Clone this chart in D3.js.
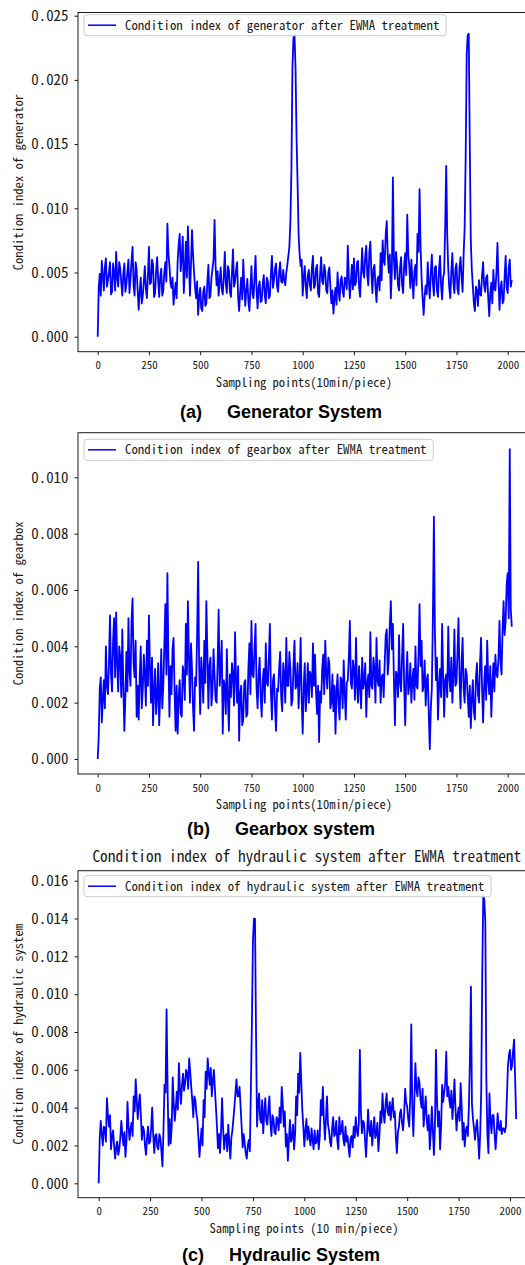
<!DOCTYPE html>
<html>
<head>
<meta charset="utf-8">
<script src="https://cdn.jsdelivr.net/npm/d3@7"></script>
<style>
  html, body { margin: 0; padding: 0; background: #fff; }
  svg { display: block; }
</style>
</head>
<body>
<svg id="chart" width="525" height="1265"></svg>
<script>
// One stored value every 5 sampling points (10 min per sampling point)
const samplingStep = 5;

const xTicks = [0, 250, 500, 750, 1000, 1250, 1500, 1750, 2000];
const generatorTicks = [0, 0.005, 0.010, 0.015, 0.020, 0.025];
const gearboxTicks = [0, 0.002, 0.004, 0.006, 0.008, 0.010];
const hydraulicTicks = [0, 0.002, 0.004, 0.006, 0.008, 0.010, 0.012, 0.014, 0.016];

// Condition index of the generator after EWMA treatment
const generatorIndex = [
  0, 0.0038, 0.0049, 0.0032, 0.0059, 0.0048, 0.0036, 0.0054, 0.0061, 0.0039,
  0.0044, 0.0050, 0.0058, 0.0033, 0.0035, 0.0057, 0.0050, 0.0036, 0.0066, 0.0046,
  0.0039, 0.0058, 0.0053, 0.0042, 0.0032, 0.0049, 0.0057, 0.0035, 0.0041, 0.0051,
  0.0060, 0.0034, 0.0045, 0.0059, 0.0070, 0.0040, 0.0032, 0.0058, 0.0052, 0.0036,
  0.0021, 0.0035, 0.0046, 0.0026, 0.0032, 0.0043, 0.0055, 0.0037, 0.0030, 0.0048,
  0.0070, 0.0041, 0.0042, 0.0060, 0.0056, 0.0031, 0.0034, 0.0051, 0.0062, 0.0044,
  0.0031, 0.0047, 0.0053, 0.0032, 0.0036, 0.0050, 0.0058, 0.0043, 0.0088, 0.0065,
  0.0055, 0.0042, 0.0038, 0.0046, 0.0025, 0.0034, 0.0042, 0.0030, 0.0059, 0.0072,
  0.0080, 0.0051, 0.0062, 0.0078, 0.0034, 0.0052, 0.0074, 0.0046, 0.0086, 0.0059,
  0.0032, 0.0056, 0.0083, 0.0064, 0.0050, 0.0038, 0.0030, 0.0043, 0.0017, 0.0031,
  0.0038, 0.0022, 0.0020, 0.0035, 0.0039, 0.0024, 0.0026, 0.0043, 0.0056, 0.0030,
  0.0032, 0.0046, 0.0053, 0.0060, 0.0091, 0.0055, 0.0040, 0.0051, 0.0032, 0.0044,
  0.0054, 0.0037, 0.0033, 0.0047, 0.0066, 0.0041, 0.0034, 0.0055, 0.0052, 0.0035,
  0.0031, 0.0050, 0.0068, 0.0039, 0.0043, 0.0052, 0.0058, 0.0031, 0.0020, 0.0035,
  0.0046, 0.0029, 0.0060, 0.0039, 0.0024, 0.0037, 0.0045, 0.0028, 0.0020, 0.0038,
  0.0055, 0.0033, 0.0030, 0.0046, 0.0063, 0.0036, 0.0022, 0.0039, 0.0043, 0.0027,
  0.0028, 0.0041, 0.0048, 0.0032, 0.0026, 0.0046, 0.0043, 0.0030, 0.0032, 0.0049,
  0.0063, 0.0038, 0.0044, 0.0053, 0.0057, 0.0039, 0.0035, 0.0050, 0.0058, 0.0043,
  0.0042, 0.0052, 0.0044, 0.0040, 0.0050, 0.0056, 0.0063, 0.0070, 0.0090, 0.0130,
  0.0210, 0.0233, 0.0235, 0.0210, 0.0155, 0.0120, 0.0080, 0.0064, 0.0055, 0.0060,
  0.0032, 0.0046, 0.0055, 0.0039, 0.0030, 0.0048, 0.0052, 0.0040, 0.0036, 0.0054,
  0.0063, 0.0038, 0.0040, 0.0053, 0.0056, 0.0034, 0.0031, 0.0049, 0.0062, 0.0043,
  0.0041, 0.0056, 0.0051, 0.0036, 0.0034, 0.0050, 0.0054, 0.0039, 0.0026, 0.0036,
  0.0018, 0.0030, 0.0038, 0.0025, 0.0050, 0.0036, 0.0028, 0.0044, 0.0047, 0.0035,
  0.0031, 0.0046, 0.0045, 0.0037, 0.0071, 0.0046, 0.0030, 0.0043, 0.0056, 0.0037,
  0.0061, 0.0040, 0.0042, 0.0058, 0.0059, 0.0039, 0.0031, 0.0050, 0.0069, 0.0050,
  0.0046, 0.0063, 0.0071, 0.0048, 0.0040, 0.0066, 0.0074, 0.0050, 0.0034, 0.0053,
  0.0056, 0.0039, 0.0027, 0.0045, 0.0047, 0.0036, 0.0065, 0.0044, 0.0075, 0.0059,
  0.0056, 0.0080, 0.0090, 0.0063, 0.0050, 0.0064, 0.0030, 0.0052, 0.0124, 0.0060,
  0.0045, 0.0066, 0.0057, 0.0040, 0.0036, 0.0054, 0.0062, 0.0040, 0.0034, 0.0056,
  0.0065, 0.0048, 0.0095, 0.0064, 0.0055, 0.0038, 0.0060, 0.0044, 0.0030, 0.0051,
  0.0056, 0.0040, 0.0080, 0.0066, 0.0115, 0.0070, 0.0045, 0.0030, 0.0017, 0.0032,
  0.0040, 0.0033, 0.0058, 0.0041, 0.0030, 0.0050, 0.0064, 0.0042, 0.0032, 0.0054,
  0.0055, 0.0036, 0.0031, 0.0052, 0.0063, 0.0040, 0.0029, 0.0046, 0.0050, 0.0085,
  0.0133, 0.0080, 0.0053, 0.0038, 0.0030, 0.0051, 0.0065, 0.0042, 0.0034, 0.0053,
  0.0057, 0.0037, 0.0033, 0.0054, 0.0062, 0.0046, 0.0035, 0.0064, 0.0085, 0.0140,
  0.0220, 0.0235, 0.0236, 0.0150, 0.0075, 0.0052, 0.0039, 0.0026, 0.0020, 0.0039,
  0.0036, 0.0024, 0.0044, 0.0033, 0.0032, 0.0048, 0.0058, 0.0040, 0.0035, 0.0046,
  0.0048, 0.0030, 0.0016, 0.0034, 0.0042, 0.0026, 0.0052, 0.0037, 0.0036, 0.0050,
  0.0073, 0.0044, 0.0021, 0.0038, 0.0043, 0.0026, 0.0028, 0.0047, 0.0063, 0.0038,
  0.0034, 0.0054, 0.0060, 0.0039, 0.0044
];

// Condition index of the gearbox after EWMA treatment
const gearboxIndex = [
  0, 0.0008, 0.0025, 0.0029, 0.0013, 0.0021, 0.0028, 0.0018, 0.0040, 0.0026,
  0.0023, 0.0034, 0.0051, 0.0030, 0.0024, 0.0042, 0.0050, 0.0029, 0.0052, 0.0034,
  0.0024, 0.0040, 0.0036, 0.0022, 0.0046, 0.0026, 0.0010, 0.0022, 0.0038, 0.0024,
  0.0050, 0.0031, 0.0026, 0.0049, 0.0057, 0.0034, 0.0029, 0.0042, 0.0015, 0.0026,
  0.0014, 0.0029, 0.0040, 0.0018, 0.0025, 0.0037, 0.0030, 0.0019, 0.0042, 0.0026,
  0.0051, 0.0032, 0.0020, 0.0036, 0.0012, 0.0024, 0.0032, 0.0016, 0.0022, 0.0034,
  0.0012, 0.0023, 0.0039, 0.0018, 0.0026, 0.0040, 0.0055, 0.0030, 0.0066, 0.0035,
  0.0015, 0.0033, 0.0023, 0.0039, 0.0043, 0.0024, 0.0010, 0.0026, 0.0009, 0.0022,
  0.0028, 0.0016, 0.0015, 0.0033, 0.0030, 0.0021, 0.0048, 0.0030, 0.0056, 0.0036,
  0.0020, 0.0041, 0.0032, 0.0018, 0.0010, 0.0029, 0.0026, 0.0044, 0.0070, 0.0032,
  0.0016, 0.0036, 0.0030, 0.0020, 0.0042, 0.0027, 0.0056, 0.0038, 0.0018, 0.0033,
  0.0036, 0.0019, 0.0024, 0.0039, 0.0030, 0.0021, 0.0020, 0.0034, 0.0053, 0.0026,
  0.0032, 0.0042, 0.0009, 0.0028, 0.0026, 0.0016, 0.0039, 0.0022, 0.0010, 0.0030,
  0.0022, 0.0034, 0.0030, 0.0019, 0.0045, 0.0028, 0.0020, 0.0033, 0.00065, 0.0023,
  0.0026, 0.0012, 0.0014, 0.0027, 0.0028, 0.0015, 0.0016, 0.0032, 0.0041, 0.0023,
  0.0049, 0.0030, 0.0029, 0.0039, 0.0048, 0.0025, 0.0018, 0.0030, 0.0036, 0.0022,
  0.0015, 0.0028, 0.0032, 0.0020, 0.0041, 0.0027, 0.0026, 0.0036, 0.0048, 0.0024,
  0.0014, 0.0028, 0.0030, 0.0018, 0.0010, 0.0025, 0.0024, 0.0032, 0.0038, 0.0022,
  0.0017, 0.0034, 0.0030, 0.0020, 0.0043, 0.0026, 0.0026, 0.0038, 0.0032, 0.0019,
  0.0021, 0.0033, 0.0042, 0.0025, 0.0026, 0.0034, 0.0018, 0.0028, 0.0043, 0.0021,
  0.0009, 0.0026, 0.0034, 0.0017, 0.0024, 0.0034, 0.0020, 0.0031, 0.0030, 0.0022,
  0.0041, 0.0026, 0.0037, 0.0024, 0.0016, 0.0026, 0.0006, 0.0024, 0.0020, 0.0032,
  0.0037, 0.0023, 0.0042, 0.0030, 0.0025, 0.0036, 0.0034, 0.0018, 0.0020, 0.0030,
  0.0017, 0.0026, 0.0009, 0.0024, 0.0030, 0.0019, 0.0014, 0.0029, 0.0028, 0.0018,
  0.0035, 0.0024, 0.0014, 0.0027, 0.0028, 0.0036, 0.0049, 0.0027, 0.0025, 0.0035,
  0.0032, 0.0021, 0.0043, 0.0026, 0.0020, 0.0033, 0.0026, 0.0018, 0.0036, 0.0025,
  0.0028, 0.0034, 0.0015, 0.0027, 0.0030, 0.0022, 0.0045, 0.0026, 0.0025, 0.0036,
  0.0032, 0.0020, 0.0043, 0.0028, 0.0026, 0.0035, 0.0020, 0.0029, 0.0030, 0.0022,
  0.0034, 0.0044, 0.0046, 0.0030, 0.0035, 0.0048, 0.0056, 0.0039, 0.0048, 0.0028,
  0.0012, 0.0031, 0.0030, 0.0022, 0.0044, 0.0027, 0.0024, 0.0037, 0.0048, 0.0026,
  0.0012, 0.0029, 0.0038, 0.0023, 0.0026, 0.0034, 0.0020, 0.0028, 0.0032, 0.0021,
  0.0040, 0.0026, 0.0025, 0.0037, 0.0055, 0.0033, 0.0042, 0.0024, 0.0026, 0.0035,
  0.0019, 0.0028, 0.0030, 0.0016, 0.00035, 0.0018, 0.0025, 0.0050, 0.0086, 0.0045,
  0.0028, 0.0036, 0.0014, 0.0026, 0.0032, 0.0022, 0.0048, 0.0030, 0.0015, 0.0028,
  0.0030, 0.0022, 0.0047, 0.0029, 0.0024, 0.0036, 0.0020, 0.0029, 0.0046, 0.0026,
  0.0027, 0.0038, 0.0050, 0.0029, 0.0018, 0.0034, 0.0043, 0.0025, 0.0020, 0.0032,
  0.0030, 0.0022, 0.0015, 0.0026, 0.0011, 0.0021, 0.0028, 0.0017, 0.0014, 0.0029,
  0.0034, 0.0023, 0.0020, 0.0034, 0.0043, 0.0025, 0.0013, 0.0026, 0.0033, 0.0021,
  0.0042, 0.0028, 0.0023, 0.0033, 0.0015, 0.0026, 0.0034, 0.0024, 0.0037, 0.0030,
  0.0029, 0.0036, 0.0049, 0.0034, 0.0030, 0.0046, 0.0056, 0.0044, 0.0049, 0.0062,
  0.0066, 0.0050, 0.0110, 0.0053, 0.0047
];

// Condition index of the hydraulic system after EWMA treatment
const hydraulicIndex = [
  0, 0.0024, 0.0033, 0.0026, 0.0020, 0.0030, 0.0029, 0.0022, 0.0045, 0.0036,
  0.0030, 0.0036, 0.0018, 0.0025, 0.0028, 0.0020, 0.0013, 0.0019, 0.0022, 0.0015,
  0.0018, 0.0024, 0.0033, 0.0026, 0.0020, 0.0027, 0.0014, 0.0022, 0.0043, 0.0030,
  0.0023, 0.0029, 0.0032, 0.0025, 0.0046, 0.0038, 0.0055, 0.0044, 0.0034, 0.0042,
  0.0047, 0.0036, 0.0023, 0.0030, 0.0028, 0.0020, 0.0015, 0.0024, 0.0030, 0.0021,
  0.0022, 0.0029, 0.0040, 0.0026, 0.0016, 0.0025, 0.0026, 0.0019, 0.0018, 0.0026,
  0.0024, 0.0017, 0.0009, 0.0028, 0.0052, 0.0048, 0.0092, 0.0050, 0.0020, 0.0034,
  0.0021, 0.0030, 0.0056, 0.0042, 0.0033, 0.0040, 0.00485, 0.0039, 0.00635, 0.0050,
  0.0042, 0.0052, 0.0058, 0.0049, 0.0053, 0.0060, 0.0058, 0.0050, 0.0066, 0.0059,
  0.0051, 0.0044, 0.0035, 0.0046, 0.0044, 0.0037, 0.00335, 0.0024, 0.0014, 0.0022,
  0.0029, 0.0020, 0.0044, 0.0035, 0.0059, 0.0050, 0.0066, 0.0058, 0.0052, 0.0061,
  0.0046, 0.0054, 0.0060, 0.0050, 0.00405, 0.0030, 0.00185, 0.0026, 0.0016, 0.0028,
  0.0045, 0.0029, 0.0018, 0.0025, 0.0026, 0.0017, 0.0031, 0.0022, 0.0013, 0.0024,
  0.0028, 0.0034, 0.00405, 0.0048, 0.0055, 0.0046, 0.0046, 0.0051, 0.00405, 0.0030,
  0.0019, 0.0026, 0.0021, 0.0016, 0.0013, 0.0020, 0.0023, 0.0017, 0.0050, 0.0085,
  0.0128, 0.0140, 0.0140, 0.0080, 0.0030, 0.0042, 0.00475, 0.0034, 0.0032, 0.0044,
  0.00265, 0.0037, 0.0045, 0.0033, 0.0031, 0.0039, 0.0046, 0.0032, 0.0025, 0.0036,
  0.0034, 0.0027, 0.0026, 0.0035, 0.00335, 0.0028, 0.0040, 0.0032, 0.0051, 0.0042,
  0.0030, 0.0038, 0.00195, 0.0026, 0.0012, 0.0023, 0.00335, 0.0022, 0.0024, 0.0031,
  0.0018, 0.0026, 0.0046, 0.0036, 0.0058, 0.0048, 0.0069, 0.0054, 0.0039, 0.0030,
  0.00195, 0.0028, 0.0034, 0.0023, 0.0030, 0.0024, 0.0020, 0.0029, 0.0023, 0.0018,
  0.0028, 0.0021, 0.0022, 0.0028, 0.0018, 0.0025, 0.0044, 0.0036, 0.0051, 0.0034,
  0.0023, 0.0034, 0.0046, 0.0031, 0.0028, 0.0022, 0.00195, 0.0029, 0.0035, 0.0025,
  0.0026, 0.0033, 0.0023, 0.0018, 0.0035, 0.0026, 0.0028, 0.0033, 0.0023, 0.0020,
  0.0030, 0.0022, 0.0025, 0.0019, 0.0014, 0.0024, 0.0025, 0.0019, 0.0030, 0.0024,
  0.0035, 0.0028, 0.0025, 0.0032, 0.00705, 0.0038, 0.00265, 0.0033, 0.0032, 0.0023,
  0.0014, 0.0026, 0.0039, 0.0028, 0.0025, 0.0033, 0.0020, 0.0028, 0.0035, 0.0024,
  0.0026, 0.0032, 0.0017, 0.0025, 0.0038, 0.0032, 0.00475, 0.0037, 0.0032, 0.0042,
  0.00475, 0.0038, 0.0036, 0.0043, 0.00335, 0.0040, 0.0045, 0.0035, 0.0038, 0.0024,
  0.0016, 0.0027, 0.0030, 0.0037, 0.0039, 0.0032, 0.0028, 0.0036, 0.0050, 0.0043,
  0.00405, 0.0034, 0.0030, 0.0046, 0.0084, 0.0040, 0.0025, 0.0044, 0.00635, 0.0050,
  0.0046, 0.0056, 0.0053, 0.0044, 0.0040, 0.0050, 0.0030, 0.0038, 0.0046, 0.0034,
  0.0028, 0.0036, 0.0018, 0.0027, 0.00405, 0.0028, 0.0015, 0.0030, 0.00705, 0.0044,
  0.0030, 0.0038, 0.0018, 0.0030, 0.0052, 0.0043, 0.0048, 0.0053, 0.00695, 0.0046,
  0.0051, 0.0044, 0.0040, 0.0049, 0.0034, 0.0043, 0.0055, 0.0039, 0.0028, 0.0036,
  0.0040, 0.0033, 0.0053, 0.0041, 0.0023, 0.0032, 0.00195, 0.0028, 0.0030, 0.0025,
  0.0040, 0.0065, 0.0104, 0.0042, 0.0034, 0.0029, 0.0023, 0.0030, 0.00335, 0.0024,
  0.0013, 0.0026, 0.00485, 0.0110, 0.0152, 0.0150, 0.0138, 0.0055, 0.0026, 0.0016,
  0.00475, 0.0034, 0.00265, 0.0036, 0.0036, 0.0026, 0.0018, 0.0027, 0.0037, 0.0029,
  0.0028, 0.0033, 0.0026, 0.0029, 0.0029, 0.0027, 0.0030, 0.0046, 0.0062, 0.0068,
  0.00705, 0.0060, 0.0062, 0.0070, 0.0076, 0.0055, 0.0034
];

// Panel layout (pixel geometry of each subplot)
const panels = [
  {
    values: generatorIndex, yTicks: generatorTicks,
    legend: "Condition index of generator after EWMA treatment",
    yLabel: "Condition index of generator",
    xLabel: "Sampling points(10min/piece)",
    caption: "(a)     Generator System",
    top: 12.5, bottom: 351.7, x0: 97.7, x2000: 507.7, yZero: 336.7, yMaxTick: 15.7,
    legendTop: 14.7, xLabelY: 386.7, captionY: 418.3
  },
  {
    values: gearboxIndex, yTicks: gearboxTicks,
    legend: "Condition index of gearbox after EWMA treatment",
    yLabel: "Condition index of gearbox",
    xLabel: "Sampling points(10min/piece)",
    caption: "(b)     Gearbox system",
    top: 432.7, bottom: 774, x0: 97.7, x2000: 507.7, yZero: 759, yMaxTick: 477.3,
    legendTop: 439.3, xLabelY: 809.3, captionY: 835.3
  },
  {
    values: hydraulicIndex, yTicks: hydraulicTicks,
    legend: "Condition index of hydraulic system after EWMA treatment",
    yLabel: "Condition index of hydraulic system",
    xLabel: "Sampling points (10 min/piece)",
    caption: "(c)     Hydraulic System",
    title: "Condition index of hydraulic system after EWMA treatment",
    top: 870.7, bottom: 1197.7, x0: 98.7, x2000: 510, yZero: 1183.3, yMaxTick: 880.7,
    legendTop: 875.7, xLabelY: 1232.7, captionY: 1260.5
  }
];

const axisLeftX = 78;
const axisRightX = 535.6;
const ink = "#1a1a1a";

const svg = d3.select("#chart");

// Prefer a half-width CJK monospace face; fall back to a squeezed Latin mono
const halfWidthFace = (() => {
  const probe = svg.append("text")
    .attr("font-family", "'Noto Sans Mono CJK SC'")
    .attr("font-size", 100).text("iiiiiiiiii");
  const w = probe.node().getComputedTextLength();
  probe.remove();
  return Math.abs(w - 500) < 8;
})();

function monoText(sel, size, charW) {
  if (halfWidthFace) {
    sel.attr("font-family", "'Noto Sans Mono CJK SC', monospace")
      .attr("font-size", charW * 2);
  } else {
    sel.attr("font-family", "'Liberation Mono','DejaVu Sans Mono',monospace")
      .attr("font-size", size)
      .attr("lengthAdjust", "spacingAndGlyphs")
      .attr("textLength", function () { return this.textContent.length * charW; });
  }
}

function drawPanel(p) {
  const g = svg.append("g");
  const x = d3.scaleLinear().domain([0, 2000]).range([p.x0, p.x2000]);
  const y = d3.scaleLinear()
    .domain([0, p.yTicks[p.yTicks.length - 1]])
    .range([p.yZero, p.yMaxTick]);

  // Series line
  const line = d3.line()
    .x((d, i) => x(i * samplingStep))
    .y(d => y(d));
  g.append("path")
    .datum(p.values)
    .attr("d", line)
    .attr("fill", "none")
    .attr("stroke", "#0000ff")
    .attr("stroke-width", 1.8)
    .attr("stroke-linejoin", "round");

  // Axes frame
  g.append("rect")
    .attr("x", axisLeftX).attr("y", p.top)
    .attr("width", axisRightX - axisLeftX).attr("height", p.bottom - p.top)
    .attr("fill", "none").attr("stroke", ink).attr("stroke-width", 1);

  // Y axis
  const ya = g.append("g")
    .attr("transform", `translate(${axisLeftX},0)`)
    .call(d3.axisLeft(y).tickValues(p.yTicks).tickFormat(d3.format(".3f"))
      .tickSize(3.5).tickPadding(6));
  ya.select(".domain").remove();
  ya.selectAll(".tick line").attr("stroke", ink);
  ya.selectAll(".tick text").attr("fill", ink).call(monoText, 16.5, 7.45);

  // X axis
  const xa = g.append("g")
    .attr("transform", `translate(0,${p.bottom})`)
    .call(d3.axisBottom(x).tickValues(xTicks).tickFormat(d3.format("d"))
      .tickSize(3.5).tickPadding(6.5));
  xa.select(".domain").remove();
  xa.selectAll(".tick line").attr("stroke", ink);
  xa.selectAll(".tick text").attr("fill", ink).call(monoText, 11.7, 5.45);

  // Axis labels
  g.append("text")
    .attr("transform", `translate(22.5,${(p.top + p.bottom) / 2}) rotate(-90)`)
    .attr("text-anchor", "middle").attr("fill", ink)
    .text(p.yLabel).call(monoText, 13.5, 6.3);
  g.append("text")
    .attr("x", 304).attr("y", p.xLabelY)
    .attr("text-anchor", "middle").attr("fill", ink)
    .text(p.xLabel).call(monoText, 13.5, 6.3);

  // Legend
  const legendCharW = 6.42;
  const textW = p.legend.length * legendCharW;
  const lg = g.append("g");
  lg.append("rect")
    .attr("x", 84).attr("y", p.legendTop)
    .attr("width", 41 + textW + 6.5).attr("height", 21)
    .attr("rx", 3)
    .attr("fill", "#fff").attr("fill-opacity", 0.8)
    .attr("stroke", "#cccccc").attr("stroke-width", 1);
  lg.append("line")
    .attr("x1", 88).attr("x2", 116)
    .attr("y1", p.legendTop + 10.5).attr("y2", p.legendTop + 10.5)
    .attr("stroke", "#0000ff").attr("stroke-width", 1.5);
  lg.append("text")
    .attr("x", 125).attr("y", p.legendTop + 10.5).attr("dy", "0.35em")
    .attr("fill", ink)
    .text(p.legend).call(monoText, 14, legendCharW);

  // Panel title
  if (p.title) {
    g.append("text")
      .attr("x", (axisLeftX + axisRightX) / 2).attr("y", 862)
      .attr("text-anchor", "middle").attr("fill", ink)
      .text(p.title).call(monoText, 16.5, 7.66);
  }

  // Caption under the subplot
  g.append("text")
    .attr("x", 281).attr("y", p.captionY)
    .attr("text-anchor", "middle")
    .style("white-space", "pre")
    .attr("font-family", "'Liberation Sans', Arial, sans-serif")
    .attr("font-weight", "bold").attr("font-size", 18).attr("fill", "#000")
    .text(p.caption);
}

panels.forEach(drawPanel);
</script>
</body>
</html>
